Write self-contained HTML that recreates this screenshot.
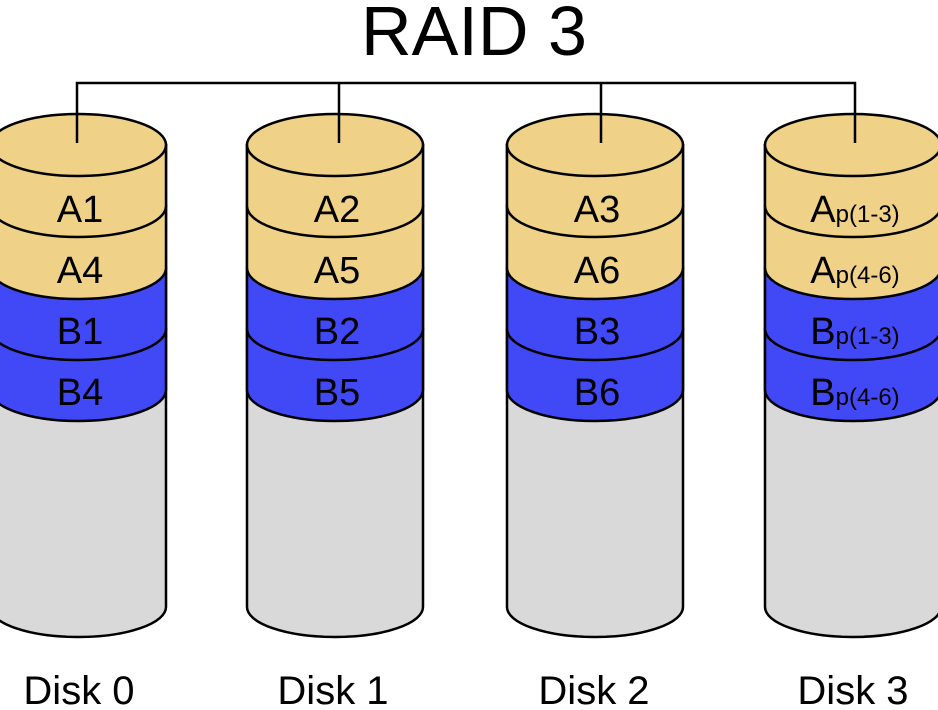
<!DOCTYPE html>
<html><head><meta charset="utf-8"><style>
html,body{margin:0;padding:0;background:#fff;}
svg{display:block;}
text{font-family:"Liberation Sans","DejaVu Sans",sans-serif;fill:#000;}
</style></head><body>
<svg width="938" height="710" viewBox="0 0 938 710" xmlns="http://www.w3.org/2000/svg">
<defs>
<g id="cyl" stroke="#000" stroke-width="2.5">
<path d="M-88,145 V607 A88 30 0 0 0 88,607 V145 Z" fill="#d9d9d9"/>
<path d="M-88,329 V390 A88 31 0 0 0 88,390 V329 Z" fill="#4049f5"/>
<path d="M-88,268 V329 A88 31 0 0 0 88,329 V268 Z" fill="#4049f5"/>
<path d="M-88,206 V268 A88 31 0 0 0 88,268 V206 Z" fill="#efd287"/>
<path d="M-88,145 V206 A88 31 0 0 0 88,206 V145 Z" fill="#efd287"/>
<ellipse cx="0" cy="145" rx="88" ry="31" fill="#efd287"/>
</g>
</defs>
<text x="474" y="55" font-size="70" text-anchor="middle" textLength="226" lengthAdjust="spacingAndGlyphs">RAID 3</text>
<use href="#cyl" transform="translate(78,0)"/>
<use href="#cyl" transform="translate(335,0)"/>
<use href="#cyl" transform="translate(595,0)"/>
<use href="#cyl" transform="translate(853,0)"/>
<path d="M77,143 V83 H855 V143 M339,83 V143 M601,83 V143" fill="none" stroke="#000" stroke-width="2.5"/>
<g font-size="38" text-anchor="middle">
<text x="80" y="222">A1</text><text x="80" y="283">A4</text><text x="80" y="344">B1</text><text x="80" y="405">B4</text>
<text x="337" y="222">A2</text><text x="337" y="283">A5</text><text x="337" y="344">B2</text><text x="337" y="405">B5</text>
<text x="597" y="222">A3</text><text x="597" y="283">A6</text><text x="597" y="344">B3</text><text x="597" y="405">B6</text>
<text x="855" y="222">A<tspan font-size="24">p(1-3)</tspan></text>
<text x="855" y="283">A<tspan font-size="24">p(4-6)</tspan></text>
<text x="855" y="344">B<tspan font-size="24">p(1-3)</tspan></text>
<text x="855" y="405">B<tspan font-size="24">p(4-6)</tspan></text>
</g>
<g font-size="40" text-anchor="middle">
<text x="79" y="704">Disk 0</text>
<text x="333" y="704">Disk 1</text>
<text x="594" y="704">Disk 2</text>
<text x="853" y="704">Disk 3</text>
</g>
</svg>
</body></html>
